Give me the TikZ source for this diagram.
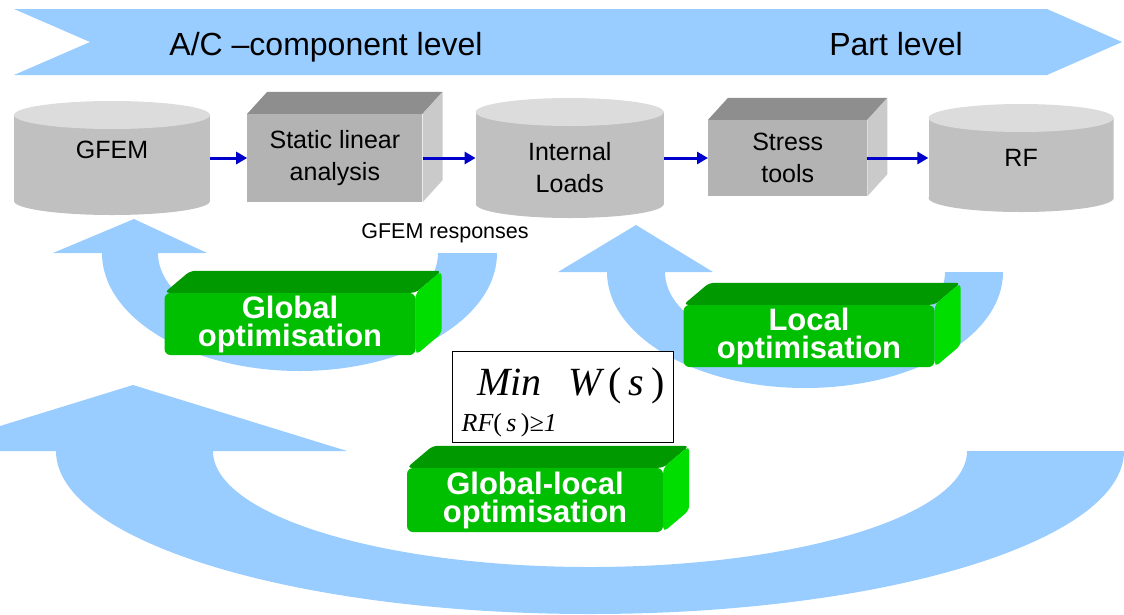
\documentclass[tikz,border=0pt]{standalone}
\usepackage{fontspec}
\setmainfont{Liberation Sans}
\newfontfamily\goalfont{Liberation Serif}
\usetikzlibrary{positioning}
\usetikzlibrary{arrows.meta}

\definecolor{loopblue}{HTML}{99CCFF}
\definecolor{drumbody}{HTML}{C0C0C0}
\definecolor{drumlid}{HTML}{DCDCDC}
\definecolor{slabfront}{HTML}{B3B3B3}
\definecolor{slabtop}{HTML}{8E8E8E}
\definecolor{slabside}{HTML}{CACACA}
\definecolor{optfront}{HTML}{00BE00}
\definecolor{opttop}{HTML}{009A00}
\definecolor{optside}{HTML}{00DE00}
\definecolor{flowblue}{HTML}{0000CC}

\newcommand\bannerfont{\fontsize{32}{36}\selectfont}
\newcommand\chainfont{\fontsize{25}{32}\selectfont}
\newcommand\optfont{\fontsize{31}{28}\selectfont\bfseries}
\newcommand\notefont{\fontsize{21.5}{24}\selectfont}

\tikzset{
    drum/.style={minimum width=#1, inner sep=0pt, align=center, font=\chainfont,
        path picture={
            \fill [drumbody] ([yshift=-14pt]path picture bounding box.north west) rectangle ([yshift=14pt]path picture bounding box.south east);
            \fill [drumbody] ([yshift=14pt]path picture bounding box.south) ellipse [x radius=#1/2, y radius=14pt];
            \fill [drumlid] ([yshift=-14pt]path picture bounding box.north) ellipse [x radius=#1/2, y radius=14pt];
        }},
    slab/.style={fill=slabfront, inner sep=0pt, align=center, font=\chainfont},
    optbox/.style={fill=optfront, rounded corners=6pt, minimum width=251pt, minimum height=62pt, inner sep=0pt, align=center, text=white, font=\optfont},
    goalbox/.style={draw=black, line width=1.2pt, fill=white, minimum width=221pt, minimum height=91pt, inner sep=0pt, text height=30pt, text depth=33pt, font=\goalfont\itshape\fontsize{40}{44}\selectfont},
    flow/.style={draw=flowblue, line width=3pt, -{Triangle[length=11pt, width=12pt]}},
}

\begin{document}
\begin{tikzpicture}[x=1pt, y=-1pt]
    \useasboundingbox (0,0) rectangle (1124,614);
    \clip (0,0) rectangle (1124,614);

    % level banner
    \fill [loopblue] (14,9) -- (1047,9) -- (1122,42) -- (1047,75) -- (14,75) -- (90,42) -- cycle;
    \node [font=\bannerfont, anchor=base] (aclevel) at (326,55) {A/C –component level};
    \node [font=\bannerfont, anchor=base] (partlevel) at (896,55) {Part level};

    % optimisation loops (big, global, local)
    \fill [loopblue] (1124,451) arc [start angle=0, end angle=-180, x radius=534pt, y radius=163pt]
        -- (-81,451) -- (133,385) -- (347,451) -- (213,451)
        arc [start angle=180, end angle=360, x radius=377pt, y radius=116pt] -- cycle;
    \fill [loopblue] (497,253) arc [start angle=0, end angle=-180, x radius=197.5pt, y radius=118pt]
        -- (53,253) -- (134,219) -- (207,253) -- (158,253)
        arc [start angle=180, end angle=360, x radius=140pt, y radius=80pt] -- cycle;
    \fill [loopblue] (1003,272) arc [start angle=0, end angle=-180, x radius=198pt, y radius=116pt]
        -- (558,272) -- (636,225) -- (713,272) -- (665,272)
        arc [start angle=180, end angle=360, x radius=140pt, y radius=78pt] -- cycle;

    % process chain
    \node [drum=196pt, minimum height=114pt, text depth=17pt] (gfem) at (112,158) {GFEM};
    \node [slab, minimum width=175pt, minimum height=88pt, right=37pt of gfem] (static) {Static linear\\analysis};
    \node [drum=188pt, minimum height=120pt, text height=70pt, right=53pt of static] (loads) {Internal\\Loads};
    \node [slab, minimum width=159pt, minimum height=76pt, right=44pt of loads] (stress) {Stress\\tools};
    \node [drum=185pt, minimum height=108pt, right=61pt of stress] (rf) {RF};

    \foreach \n in {static, stress} {
        \fill [slabtop] (\n.north west) -- ++(20pt,22pt) -- ([shift={(20pt,22pt)}]\n.north east) -- (\n.north east) -- cycle;
        \fill [slabside] (\n.north east) -- ++(20pt,22pt) -- ([shift={(20pt,22pt)}]\n.south east) -- (\n.south east) -- cycle;
    }

    \draw [flow] (gfem) -- (static);
    \draw [flow] (static) -- (loads);
    \draw [flow] (loads) -- (stress);
    \draw [flow] (stress) -- (rf);

    \node [font=\notefont] (responses) at (445,233) {GFEM responses};

    % optimisation blocks
    \node [optbox] (globalopt) at (290,324) {Global\\optimisation};
    \node [optbox] (localopt) at (809,336) {Local\\optimisation};
    \node [optbox, minimum width=256pt, minimum height=64pt] (glopt) at (535,500) {Global-local\\optimisation};

    \foreach \n in {globalopt, localopt, glopt} {
        \fill [opttop, rounded corners=5pt] (\n.north west) -- ++(26pt,22pt) -- ([shift={(26pt,22pt)}]\n.north east) -- (\n.north east) -- cycle;
        \fill [optside, rounded corners=5pt] (\n.north east) -- ++(26pt,22pt) -- ([shift={(26pt,22pt)}]\n.south east) -- (\n.south east) -- cycle;
    }

    % objective
    \node [goalbox] (goal) at (563,397) {\begin{tabular}[t]{@{}c@{}}Min\\[-8pt]\fontsize{26}{28}\selectfont RF{\upshape(}\,s\,{\upshape)}≥1\end{tabular}\hspace{12pt}W{\upshape\,(\,}s{\upshape\,)}};
\end{tikzpicture}
\end{document}
